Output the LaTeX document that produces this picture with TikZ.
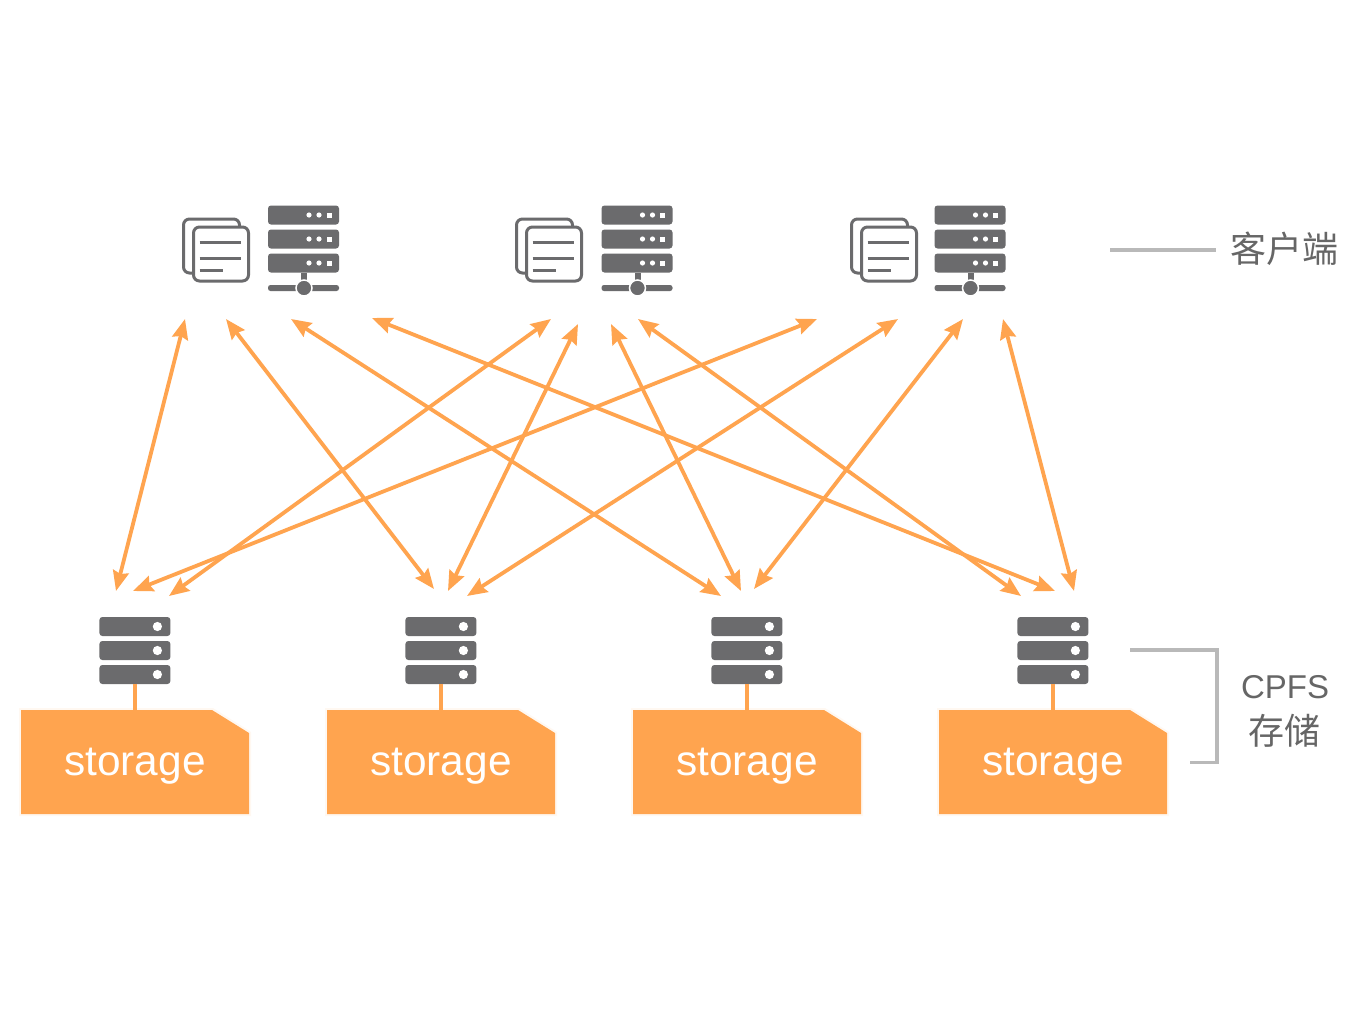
\documentclass[tikz,border=0pt]{standalone}
\usepackage{fontspec}
\setmainfont{Liberation Sans}
\newfontfamily\cjkfont{Noto Sans CJK SC}
\usetikzlibrary{                          % TikZ libraries
                calc,                     % .
                arrows.meta}
\definecolor{linkorange}{HTML}{FFA44F}
\definecolor{rackgray}{HTML}{6B6B6D}
\definecolor{notegray}{HTML}{B9B9B9}
\definecolor{labelgray}{HTML}{666666}
\definecolor{haloorange}{HTML}{FFF8F1}

\begin{document}
\begin{tikzpicture}[x=1pt,y=-1pt
                    ]
                % define styles
\tikzset{link/.style={draw=linkorange,
                       line width=3.8pt,
                       {Stealth[length=20pt,width=16pt,inset=2.5pt]}-{Stealth[length=20pt,width=16pt,inset=2.5pt]}
                       },
         stem/.style={draw=linkorange,
                       line width=3.6pt
                       },
         note/.style={draw=notegray,
                       line width=3.4pt
                       },
         label/.style={text=labelgray,
                       font=\cjkfont\fontsize{36}{40}\selectfont,
                       inner sep=0
                       },
         storetext/.style={text=white,
                       font=\fontsize{42.4}{48}\selectfont,
                       inner sep=0,
                       anchor=base
                       },
         pics/rackthree/.style={code={
             \foreach \top in {0,24,48}
                 \fill[rackgray,rounded corners=3pt] (0,\top) rectangle (71,\top+19);
         }},
         pics/clientrack/.style={code={
             \pic at (0,0) {rackthree};
             \foreach \top in {0,24,48} {
                 \fill[white] (41,\top+9.5) circle (2.6);
                 \fill[white] (51,\top+9.5) circle (2.6);
                 \fill[white] (58.5,\top+7) rectangle (63.5,\top+12);
             }
             \fill[rackgray] (33,67) rectangle (39,78);
             \fill[rackgray,rounded corners=2.5pt] (0,79.5) rectangle (71,85.5);
             \fill[rackgray,draw=white,line width=1.5pt] (36,82.5) circle (8);
         }},
         pics/clientdoc/.style={code={
             \draw[rackgray,line width=3pt,rounded corners=6pt]
                 (9,54) -- (0,54) -- (0,0) -- (56,0) -- (56,8);
             \draw[rackgray,line width=3pt,rounded corners=6pt]
                 (10,8) rectangle (65,62);
             \draw[rackgray,line width=3pt] (16,23) -- (57,23);
             \draw[rackgray,line width=3pt] (16,39) -- (57,39);
             \draw[rackgray,line width=3pt] (16,51) -- (39,51);
         }},
         pics/storagerack/.style={code={
             \pic at (0,0) {rackthree};
             \foreach \top in {0,24,48}
                 \fill[white] (58,\top+9.5) circle (4.6);
         }}
}

% background
\fill[white] (0,0) rectangle (1360,1020);
\useasboundingbox (0,0) rectangle (1360,1020);

% clients
\foreach \idx/\xdoc/\xrack in {1/183.5/268, 2/516.5/601.5, 3/851.5/934.5} {
    \pic at (\xdoc,219) {clientdoc};
    \pic at (\xrack,205.5) {clientrack};
}

% storage columns
\foreach \idx/\xleft in {1/21, 2/327, 3/633, 4/939} {
    \fill[haloorange] (\xleft-2,708) -- (\xleft+192,708) -- (\xleft+230,732) --
        (\xleft+230,816) -- (\xleft-2,816) -- cycle;
    \fill[linkorange] (\xleft,710) -- (\xleft+191,710) -- (\xleft+228,733) --
        (\xleft+228,814) -- (\xleft,814) -- cycle;
    \pic at (\xleft+78.4,617) {storagerack};
    \coordinate (rack\idx) at (\xleft+114,684);
    \coordinate (box\idx)  at (\xleft+114,710);
    \node[storetext] (store\idx) at (\xleft+114,775) {storage};
    \draw[stem] (rack\idx) -- (box\idx);
}

% link ends
\foreach \name/\x/\y in {a1/185/319, a2/226/319, a3/291/319, a4/372/318,
                         b1/551/319, b2/578/324, b3/611/324, b4/638/319,
                         c1/817/319, c2/898/319, c3/963/319, c4/1003/319,
                         s1/116/591, s2/434/589, s3/721/596, s4/1055/591,
                         t1/169/596, t2/448/591, t3/741/591, t4/1021/596,
                         u1/133/591, u2/467/596, u3/754/589, u4/1074/591}
    \coordinate (\name) at (\x,\y);

% links
\foreach \from/\to in {a1/s1, a2/s2, a3/s3, a4/s4,
                       b1/t1, b2/t2, b3/t3, b4/t4,
                       c1/u1, c2/u2, c3/u3, c4/u4}
    \draw[link] (\from) -- (\to);

% labels
\coordinate (clientnote) at (1110,250);
\coordinate (clientend) at (1216,250);
\node[label,anchor=center] (clientlabel) at (1284.5,249) {客户端};
\draw[note] (clientnote) -- (clientend);

\node[label,font=\fontspec{Liberation Sans}\fontsize{33}{38}\selectfont] (cpfslabel) at (1285,687) {CPFS};
\node[label] (storelabel) at (1284,731) {存储};
\coordinate (noteup) at (1130,650);
\coordinate (notedown) at (1190,762.5);
\draw[note] (noteup) -- (1217,650) -- (1217,762.5) -- (notedown);

\end{tikzpicture}
\end{document}
